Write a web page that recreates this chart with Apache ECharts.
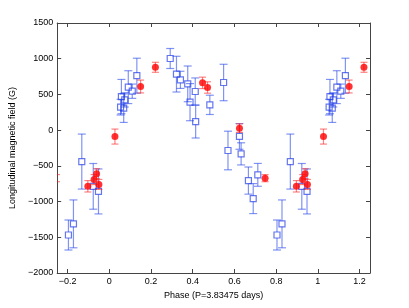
<!DOCTYPE html>
<html><head><meta charset="utf-8">
<script src="https://cdn.jsdelivr.net/npm/echarts@6/dist/echarts.min.js"></script>
<style>html,body{margin:0;padding:0;background:#fff}#c{width:409px;height:308px}</style>
</head><body><div id="c"></div>
<script>
// Base observations (phase in [0,1)); the plot repeats them by +/- one cycle
const bluePhase = [0.054, 0.058, 0.069, 0.074, 0.091, 0.110, 0.132, 0.292, 0.322, 0.341, 0.376, 0.387, 0.412, 0.414, 0.482, 0.548, 0.569, 0.624, 0.632, 0.667, 0.690, 0.712, 0.804, 0.828, 0.868, 0.923, 0.948];
const blueField = [322, 470, 308, 424, 602, 545, 762, 1003, 784, 704, 648, 392, 541, 120, 354, 667, -285, -88, -332, -706, -958, -626, -1468, -1312, -440, -787, -858];
const blueErr   = [110, 240, 200, 100, 230, 100, 245, 140, 250, 120, 250, 260, 190, 230, 135, 255, 270, 180, 155, 190, 210, 160, 210, 335, 385, 320, 315];
const redPhase = [0.027, 0.150, 0.221, 0.447, 0.471, 0.624, 0.747, 0.897, 0.927, 0.939, 0.950];
const redField = [-90, 611, 880, 662, 597, 28, -672, -786, -692, -610, -760];
const redErr   = [105, 90, 70, 80, 80, 60, 50, 80, 70, 70, 70];
const xTicks = [-0.2, 0, 0.2, 0.4, 0.6, 0.8, 1, 1.2];
const xTitle = 'Phase (P=3.83475 days)';
const yTitle = 'Longitudinal magnetic field (G)';

const X_MIN = -0.25, X_MAX = 1.25;
function fold(ph, vals, errs, pad) {
  const out = [];
  for (const shift of [-1, 0, 1]) {
    for (let i = 0; i < ph.length; i++) {
      const p = ph[i] + shift;
      if (p >= X_MIN - pad && p <= X_MAX + pad) out.push([p, vals[i], errs[i]]);
    }
  }
  return out;
}
const blueBars = fold(bluePhase, blueField, blueErr, 0.03);
const blueMarks = fold(bluePhase, blueField, blueErr, 0);
const redBars = fold(redPhase, redField, redErr, 0.03);
const redMarks = fold(redPhase, redField, redErr, 0);

const BLUE_BAR = 'rgba(40,70,235,0.58)';
const BLUE_MK = 'rgba(30,55,230,0.85)';
const RED_BAR = 'rgba(255,30,30,0.55)';
const RED_MK = '#ff0000';

function makeRender(color, capHalf, gap) {
  return function (params, api) {
    const x = api.value(0), y = api.value(1), e = api.value(2);
    const c = api.coord([x, y]);
    const t = api.coord([x, y + e]);
    const b = api.coord([x, y - e]);
    const st = {stroke: color, lineWidth: 1.2, fill: null};
    const ch = [];
    ch.push({type: 'line', shape: {x1: c[0], y1: t[1], x2: c[0], y2: c[1] - gap}, style: st});
    ch.push({type: 'line', shape: {x1: c[0], y1: c[1] + gap, x2: c[0], y2: b[1]}, style: st});
    ch.push({type: 'line', shape: {x1: c[0] - capHalf, y1: t[1], x2: c[0] + capHalf, y2: t[1]}, style: st});
    ch.push({type: 'line', shape: {x1: c[0] - capHalf, y1: b[1], x2: c[0] + capHalf, y2: b[1]}, style: st});
    return {type: 'group', children: ch};
  };
}

const FONT = 'Liberation Sans';
const axisCol = '#444';
const fmtX = v => String(Math.round(v * 10) / 10).replace('-', '\u2212');
const fmtY = v => String(v).replace('-', '\u2212');

const chart = echarts.init(document.getElementById('c'), null, {renderer: 'canvas'});
chart.setOption({
  animation: false,
  backgroundColor: '#fff',
  grid: {left: 53, right: 39, top: 23, bottom: 35},
  xAxis: [{
    type: 'value', min: X_MIN, max: X_MAX, position: 'bottom',
    axisLine: {show: true, onZero: false, lineStyle: {color: axisCol, width: 1}},
    axisTick: {show: true, inside: true, length: 4, customValues: xTicks, lineStyle: {color: axisCol}},
    axisLabel: {customValues: xTicks, formatter: fmtX, color: '#000', fontSize: 9, fontFamily: FONT, margin: 4},
    splitLine: {show: false},
    name: xTitle, nameLocation: 'middle', nameGap: 10,
    nameTextStyle: {color: '#000', fontSize: 9, fontFamily: FONT}
  }, {
    type: 'value', min: X_MIN, max: X_MAX, position: 'top',
    axisLine: {show: true, onZero: false, lineStyle: {color: axisCol, width: 1}},
    axisTick: {show: true, inside: true, length: 4, customValues: xTicks, lineStyle: {color: axisCol}},
    axisLabel: {show: false}, splitLine: {show: false}
  }],
  yAxis: [{
    type: 'value', min: -2000, max: 1500, interval: 500, position: 'left',
    axisLine: {show: true, onZero: false, lineStyle: {color: axisCol, width: 1}},
    axisTick: {show: true, inside: true, length: 4, lineStyle: {color: axisCol}},
    axisLabel: {formatter: fmtY, color: '#000', fontSize: 9, fontFamily: FONT, margin: 4},
    splitLine: {show: false},
    name: yTitle, nameLocation: 'middle', nameGap: 27,
    nameTextStyle: {color: '#000', fontSize: 9, fontFamily: FONT}
  }, {
    type: 'value', min: -2000, max: 1500, interval: 500, position: 'right',
    axisLine: {show: true, onZero: false, lineStyle: {color: axisCol, width: 1}},
    axisTick: {show: true, inside: true, length: 4, lineStyle: {color: axisCol}},
    axisLabel: {show: false}, splitLine: {show: false}
  }],
  series: [
    {type: 'custom', xAxisIndex: 0, yAxisIndex: 0, clip: true, data: blueBars,
     encode: {x: 0, y: 1}, renderItem: makeRender(BLUE_BAR, 4, 3), z: 2},
    {type: 'scatter', xAxisIndex: 0, yAxisIndex: 0, data: blueMarks, symbol: 'rect', symbolSize: 6,
     itemStyle: {color: 'rgba(255,255,255,0)', borderColor: BLUE_MK, borderWidth: 1.2}, z: 3},
    {type: 'custom', xAxisIndex: 0, yAxisIndex: 0, clip: true, data: redBars,
     encode: {x: 0, y: 1}, renderItem: makeRender(RED_BAR, 3.5, 0), z: 4},
    {type: 'scatter', xAxisIndex: 0, yAxisIndex: 0, data: redMarks, symbol: 'circle', symbolSize: 7,
     itemStyle: {color: RED_MK}, z: 5}
  ]
});
</script></body></html>
